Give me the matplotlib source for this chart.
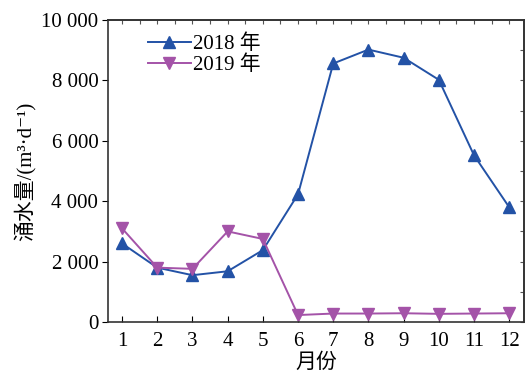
import matplotlib
matplotlib.use("Agg")
import matplotlib.pyplot as plt
from matplotlib.ticker import MultipleLocator, FuncFormatter

months = [1, 2, 3, 4, 5, 6, 7, 8, 9, 10, 11, 12]
flow_2018 = [2600, 1800, 1550, 1680, 2380, 4230, 8560, 9020, 8750, 8020, 5520, 3800]
flow_2019 = [3100, 1800, 1760, 3000, 2750, 230, 280, 280, 290, 270, 280, 290]
labels = ["2018 年", "2019 年"]

fam = ["Liberation Serif", "Noto Sans CJK SC", "DejaVu Serif"]
plt.rcParams["font.family"] = fam
plt.rcParams["font.size"] = 15

fig = plt.figure(figsize=(5.28, 3.74), dpi=100)
ax = fig.add_axes([108/528, 52/374, (524-108)/528, (322-20)/374])

blue = "#2352a6"
purple = "#a453a8"
ax.plot(months, flow_2018, color=blue, marker="^", markersize=8, lw=1.4, label=labels[0])
ax.plot(months, flow_2019, color=purple, marker="v", markersize=8, lw=1.4, label=labels[1])

ax.set_xlim(0.6, 12.42)
ax.set_ylim(0, 10000)
ax.set_xticks(months)
ax.set_yticks(range(0, 10001, 2000))
ax.yaxis.set_major_formatter(FuncFormatter(lambda v, p: f"{int(v):,}".replace(",", " ")))

ax.tick_params(axis="x", direction="in", length=4, top=False, labelsize=15, pad=7)
ax.tick_params(axis="y", direction="out", length=4, right=False, labelsize=15, pad=3)

for s in ax.spines.values():
    s.set_linewidth(1.2)
    s.set_color("#333333")

# top and right inner ticks
axt = ax.secondary_xaxis("top")
axt.xaxis.set_major_locator(MultipleLocator(0.5))
axt.tick_params(direction="in", length=3, labeltop=False, color="#555555")
axt.spines["top"].set_linewidth(1.2)
axt.spines["top"].set_color("#333333")
axr = ax.secondary_yaxis("right")
axr.yaxis.set_major_locator(MultipleLocator(1000))
axr.tick_params(direction="in", length=3, labelright=False, color="#555555")
axr.spines["right"].set_linewidth(1.2)
axr.spines["right"].set_color("#333333")

ax.set_xlabel("月份", fontsize=15, labelpad=2)
ax.set_ylabel("涌水量/(m³·d⁻¹)", fontsize=15, labelpad=3)

ax.legend(loc="upper left", bbox_to_anchor=(0.06, 1.0), frameon=False,
          fontsize=15, handlelength=2.1, handletextpad=0.1, labelspacing=0.05,
          borderpad=0.2)

fig.savefig("out.png", dpi=100)
